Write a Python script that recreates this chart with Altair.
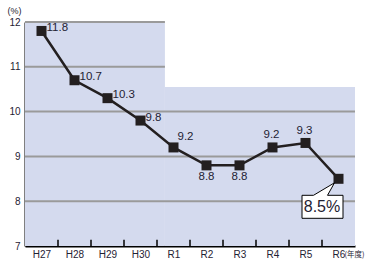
import altair as alt
import pandas as pd

# ---- data ----
categories = ["H27", "H28", "H29", "H30", "R1", "R2", "R3", "R4", "R5", "R6"]
rates = [11.8, 10.7, 10.3, 9.8, 9.2, 8.8, 8.8, 9.2, 9.3, 8.5]
y_ticks = [7, 8, 9, 10, 11, 12]
grid_values = [8, 9, 10, 11, 12]
grid_ends = [9.5, 9.5, 9.5, 3.74, 3.74]
bg_starts = [-0.5, 3.74]
bg_ends = [3.74, 9.5]
bg_tops = [12, 10.55]
right_labels = ["H27", "H28", "H29", "H30"]
upright_labels = ["R1"]
below_labels = ["R2", "R3"]
above_labels = ["R4", "R5"]
callout_labels = ["R6"]
unit_x = "(年度)"
unit_y = "(%)"

FONT = "Liberation Sans"
TXT = "#1f2233"
INK = "#231f20"

df = pd.DataFrame({
    "cat": categories,
    "idx": list(range(len(categories))),
    "rate": rates,
    "label": [f"{v:.1f}" for v in rates],
    "callout": [f"{v:.1f}%" for v in rates],
})
bg = pd.DataFrame({"idx": bg_starts, "x1": bg_ends, "rate": [y_ticks[0]] * 2, "yt": bg_tops})
grid = pd.DataFrame({"rate": grid_values, "idx": [bg_starts[0]] * len(grid_values), "x1": grid_ends})
bounds = pd.DataFrame({
    "idx": [i + 0.5 for i in range(len(categories) - 1)],
    "rate": [y_ticks[0]] * (len(categories) - 1),
    "tick_top": [y_ticks[0] + 0.14] * (len(categories) - 1),
})

xscale = alt.Scale(domain=[-0.5, len(categories) - 0.5], nice=False, zero=False)
yscale = alt.Scale(domain=[y_ticks[0], y_ticks[-1]], nice=False, zero=False)

label_expr = "[" + ",".join(f"'{c}'" for c in categories) + "][datum.value]"

x_axis = alt.Axis(values=list(range(len(categories))), labelExpr=label_expr, ticks=False,
                  grid=False, domainColor="black", domainWidth=2, labelFontSize=10,
                  labelFont=FONT, labelColor=TXT, labelPadding=3, title=None)
y_axis = alt.Axis(values=y_ticks, ticks=False, grid=False, domainColor="black", domainWidth=2,
                  labelFontSize=10, labelFont=FONT, labelColor=TXT, labelPadding=5,
                  title=unit_y, titleAngle=0, titleX=-11, titleY=-12, titleAlign="center",
                  titleBaseline="middle", titleFontSize=9, titleFontWeight="normal",
                  titleFont=FONT, titleColor=TXT)

X = alt.X("idx:Q", scale=xscale, axis=x_axis)
Y = alt.Y("rate:Q", scale=yscale, axis=y_axis)

background = alt.Chart(bg).mark_rect(color="#D4DAEE").encode(x=X, x2="x1:Q", y=Y, y2="yt:Q")

gridlines = alt.Chart(grid).mark_rule(color="#9a9a9a", strokeWidth=2).encode(x=X, x2="x1:Q", y=Y)

ticks = alt.Chart(bounds).mark_rule(color="black", strokeWidth=1.5).encode(
    x=X, y=Y, y2="tick_top:Q",
)

base = alt.Chart(df).encode(x=X, y=Y)

line = base.mark_line(color=INK, strokeWidth=2.5)
points = base.mark_square(size=100, color=INK, opacity=1)

def labels(cats, **kw):
    return base.transform_filter(alt.FieldOneOfPredicate(field="cat", oneOf=cats)).mark_text(
        font=FONT, fontSize=11.5, color=TXT, baseline="middle", **kw
    ).encode(text="label:N")

lab_right = labels(right_labels, align="left", dx=5, dy=-3)
lab_upright = labels(upright_labels, align="center", dx=12, dy=-10)
lab_below = labels(below_labels, align="center", dy=12)
lab_above = labels(above_labels, align="center", dx=-1, dy=-12)

callout_path = ("M -0.9125 0.4125 L -0.625 0.4125 L -0.1 0.1 L -0.275 0.4125 "
                "L 0.1125 0.4125 L 0.1125 0.9875 L -0.9125 0.9875 Z")
cdata = base.transform_filter(alt.FieldOneOfPredicate(field="cat", oneOf=callout_labels))
callout_box = cdata.mark_point(shape=callout_path, size=6400, filled=True, fill="white",
                               stroke="black", strokeWidth=1, opacity=1)
callout_text = cdata.mark_text(font=FONT, fontSize=16, color=TXT, align="center",
                               baseline="middle", dx=-16.5, dy=28).encode(text="callout:N")

unit_note = alt.Chart(df).transform_filter(
    alt.FieldOneOfPredicate(field="cat", oneOf=callout_labels)
).mark_text(font="Noto Sans CJK JP", fontSize=7.5, color=TXT, align="left",
            baseline="middle", dx=6).encode(
    x=X,
    y=alt.value(233),
    text=alt.value(unit_x),
)

chart = alt.layer(
    background, gridlines, ticks, line, points,
    lab_right, lab_upright, lab_below, lab_above,
    callout_box, callout_text, unit_note,
).properties(
    width=330, height=224,
    autosize=alt.AutoSizeParams(type="none"),
    padding={"left": 25, "top": 22, "right": 13, "bottom": 19},
    background="white",
).configure_view(stroke=None)

chart.save("out.html", embed_options={"renderer": "svg", "actions": False})
